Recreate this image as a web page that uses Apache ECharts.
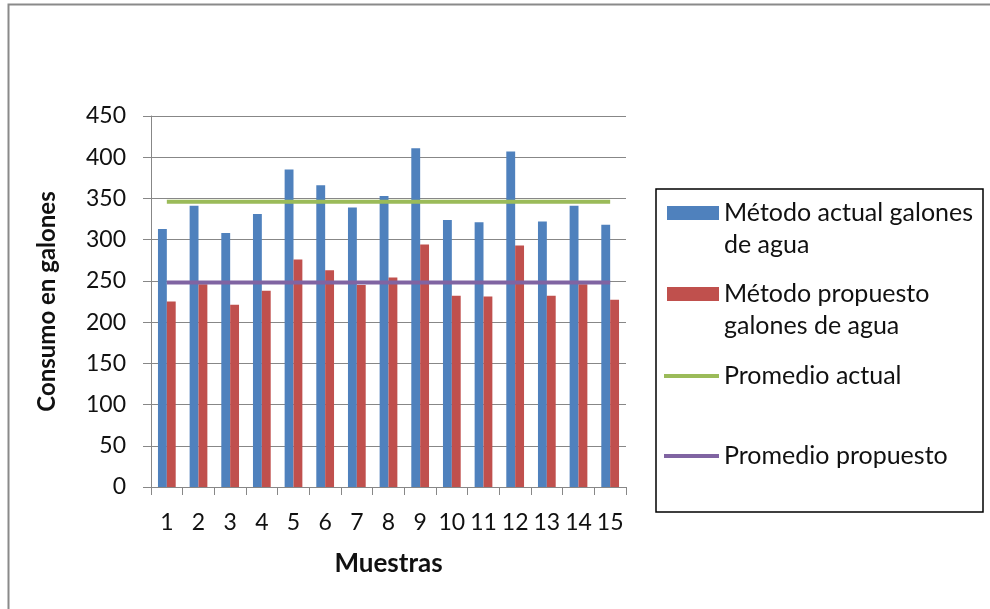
<!DOCTYPE html>
<html lang="es">
<head>
    <meta charset="utf-8">
    <title>Consumo en galones</title>
    <script src="https://cdn.jsdelivr.net/npm/echarts@6/dist/echarts.min.js"></script>
    <style>
        html, body { margin: 0; padding: 0; background: #fff; }
    </style>
</head>
<body>
<div id="chart" style="width: 990px;height:609px;"></div>

<script>
    // datos
    let muestras = ['1', '2', '3', '4', '5', '6', '7', '8', '9', '10', '11', '12', '13', '14', '15'];
    let metodoActual = [313, 341, 308, 331, 385, 366, 339, 353, 411, 324, 321, 407, 322, 341, 318];
    let metodoPropuesto = [225, 246, 221, 238, 276, 263, 245, 254, 294, 232, 231, 293, 232, 246, 227];
    let promedioActual = [346, 346, 346, 346, 346, 346, 346, 346, 346, 346, 346, 346, 346, 346, 346];
    let promedioPropuesto = [248, 248, 248, 248, 248, 248, 248, 248, 248, 248, 248, 248, 248, 248, 248];
    let yTicks = [0, 50, 100, 150, 200, 250, 300, 350, 400, 450];

    let font = 'Lato, "Liberation Sans", sans-serif';
    let gris = '#878787';
    let lh = 32; // alto de linea de la leyenda

    let myChart = echarts.init(document.getElementById('chart'));

    // una leyenda por serie, asi se puede colocar cada entrada como en el original
    // las entradas de dos lineas llevan una linea vacia delante para que el icono quede en la primera
    function legendItem(name, top, isBar) {
        return {
            data: [name],
            left: isBar ? 667 : 664,
            top: top,
            orient: 'vertical',
            padding: 0,
            itemWidth: isBar ? 52 : 55,
            itemHeight: isBar ? 14 : 4,
            icon: 'rect',
            selectedMode: false,
            textStyle: {
                fontFamily: font,
                fontSize: 25,
                color: '#111',
                lineHeight: lh
            },
            formatter: function (n) {
                if (n === 'Método actual galones de agua') return ' \nMétodo actual galones\nde agua';
                if (n === 'Método propuesto galones de agua') return ' \nMétodo propuesto\ngalones de agua';
                return n;
            }
        };
    }

    let option = {
        animation: false,
        backgroundColor: '#fff',
        grid: {
            left: 151,
            right: 364,
            top: 116,
            bottom: 122
        },
        legend: [
            legendItem('Método actual galones de agua', 213 - 1.5 * lh, true),
            legendItem('Método propuesto galones de agua', 294 - 1.5 * lh, true),
            legendItem('Promedio actual', 376 - lh / 2, false),
            legendItem('Promedio propuesto', 456 - lh / 2, false)
        ],
        graphic: [
            {
                type: 'rect',
                shape: {x: 8.5, y: 4.5, width: 1200, height: 800},
                style: {fill: 'none', stroke: '#8a8a8a', lineWidth: 2},
                silent: true
            },
            {
                type: 'rect',
                shape: {x: 656, y: 189, width: 327, height: 323},
                style: {fill: 'none', stroke: '#000', lineWidth: 1.5},
                silent: true
            }
        ],
        xAxis: {
            type: 'category',
            data: muestras,
            name: 'Muestras',
            nameLocation: 'middle',
            nameGap: 64,
            nameTextStyle: {fontFamily: font, fontSize: 26, fontWeight: 'bold', color: '#111'},
            axisLine: {lineStyle: {color: gris, width: 1}},
            axisTick: {show: true, length: 8, lineStyle: {color: gris}},
            axisLabel: {fontFamily: font, fontSize: 23, color: '#111', margin: 24, interval: 0}
        },
        yAxis: {
            type: 'value',
            min: yTicks[0],
            max: yTicks[yTicks.length - 1],
            interval: 50,
            name: 'Consumo en galones',
            nameLocation: 'middle',
            nameGap: 92,
            nameTextStyle: {fontFamily: font, fontSize: 24, fontWeight: 'bold', color: '#111'},
            axisLine: {show: true, lineStyle: {color: gris, width: 1}},
            axisTick: {show: true, length: 8, lineStyle: {color: gris}},
            axisLabel: {fontFamily: font, fontSize: 23, color: '#111', margin: 25},
            splitLine: {lineStyle: {color: gris, width: 1}}
        },
        series: [
            {
                name: 'Método actual galones de agua',
                type: 'bar',
                data: metodoActual,
                barWidth: '28%',
                barGap: '0%',
                itemStyle: {color: '#4f81bd'}
            },
            {
                name: 'Método propuesto galones de agua',
                type: 'bar',
                data: metodoPropuesto,
                barWidth: '28%',
                barGap: '0%',
                itemStyle: {color: '#c0504d'}
            },
            {
                name: 'Promedio actual',
                type: 'line',
                data: promedioActual,
                symbol: 'none',
                lineStyle: {color: '#9bbb59', width: 4},
                itemStyle: {color: '#9bbb59'},
                z: 3
            },
            {
                name: 'Promedio propuesto',
                type: 'line',
                data: promedioPropuesto,
                symbol: 'none',
                lineStyle: {color: '#8064a2', width: 4},
                itemStyle: {color: '#8064a2'},
                z: 3
            }
        ]
    };
    myChart.setOption(option);
</script>
</body>
</html>
